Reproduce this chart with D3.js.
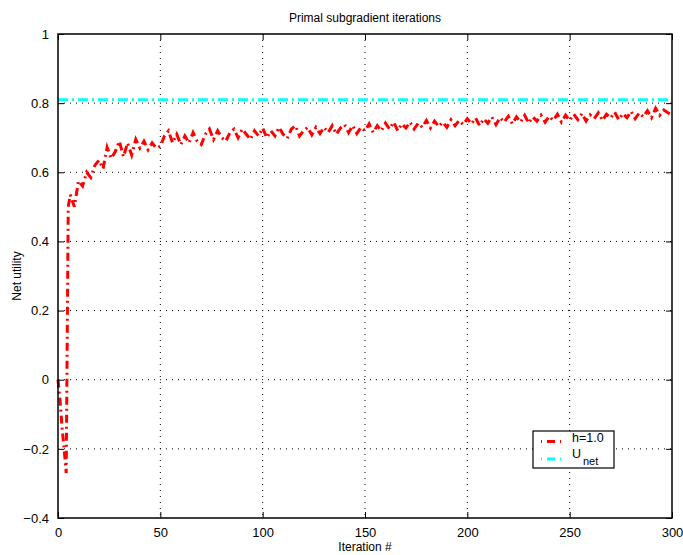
<!DOCTYPE html>
<html><head><meta charset="utf-8">
<script src="https://cdn.jsdelivr.net/npm/d3@7"></script>
<style>body{margin:0;background:#fff;} text{font-family:"Liberation Sans",Arial,Helvetica,sans-serif;}</style>
</head><body><svg id="c" width="683" height="555"></svg>
<script>
const titleText = "Primal subgradient iterations";
const xLabel = "Iteration #";
const yLabel = "Net utility";
const xTicks = [0, 50, 100, 150, 200, 250, 300];
const yTicks = [-0.4, -0.2, 0, 0.2, 0.4, 0.6, 0.8, 1];
const uNet = 0.81;
const iters = [0,1,2,3,4,5,6,8,10,12,14,16,18,20,22,24,26,28,30,32,34,36,38,40,42,44,46,48,50,
52,54,56,58,60,62,64,66,68,70,72,74,76,78,80,82,84,86,88,90,92,94,96,98,100,
102,104,106,108,110,112,114,116,118,120,122,124,126,128,130,132,134,136,138,140,142,144,146,148,150,
152,154,156,158,160,162,164,166,168,170,172,174,176,178,180,182,184,186,188,190,192,194,196,198,200,
202,204,206,208,210,212,214,216,218,220,222,224,226,228,230,232,234,236,238,240,242,244,246,248,250,
252,254,256,258,260,262,264,266,268,270,272,274,276,278,280,282,284,286,288,290,292,294,296,298,300];
const utility = [0.00,-0.06,-0.14,-0.20,-0.27,0.50,0.535,0.50,0.575,0.56,0.60,0.585,0.62,0.635,0.61,0.672,0.64,0.66,0.69,0.645,0.685,0.65,0.695,0.67,0.69,0.665,0.685,0.67,0.675,
0.705,0.72,0.685,0.71,0.68,0.705,0.685,0.715,0.69,0.68,0.71,0.725,0.695,0.72,0.70,0.69,0.715,0.725,0.70,0.725,0.71,0.695,0.72,0.705,0.728,
0.70,0.72,0.705,0.73,0.71,0.698,0.725,0.735,0.705,0.72,0.73,0.708,0.73,0.712,0.73,0.715,0.735,0.71,0.728,0.738,0.715,0.735,0.712,0.73,0.72,
0.74,0.715,0.735,0.72,0.742,0.725,0.745,0.72,0.74,0.728,0.745,0.725,0.742,0.73,0.75,0.728,0.748,0.732,0.745,0.73,0.752,0.735,0.75,0.738,0.755,
0.74,0.757,0.735,0.755,0.742,0.76,0.738,0.758,0.745,0.762,0.74,0.76,0.745,0.765,0.742,0.76,0.748,0.765,0.745,0.762,0.75,0.768,0.745,0.765,0.75,
0.768,0.752,0.77,0.748,0.766,0.755,0.772,0.75,0.768,0.757,0.774,0.752,0.77,0.758,0.776,0.755,0.772,0.76,0.778,0.758,0.785,0.765,0.78,0.772,0.765];
const legendLabels = ["h=1.0", "U", "net"];

const svg = d3.select("#c");
const L = 58, R = 672, T = 34, B = 518;
const x = d3.scaleLinear().domain([0, 300]).range([L, R]);
const y = d3.scaleLinear().domain([-0.4, 1]).range([B, T]);

// grid
const g = svg.append("g");
g.selectAll(".gx").data(xTicks.slice(1, -1)).join("line")
  .attr("x1", d => x(d)).attr("x2", d => x(d)).attr("y1", T).attr("y2", B)
  .attr("stroke", "#000").attr("stroke-width", 1).attr("stroke-dasharray", "1,5");
g.selectAll(".gy").data(yTicks.slice(1, -1)).join("line")
  .attr("y1", d => y(d)).attr("y2", d => y(d)).attr("x1", L).attr("x2", R)
  .attr("stroke", "#000").attr("stroke-width", 1).attr("stroke-dasharray", "1,5");

// U_net line
svg.append("line").attr("x1", x(0)).attr("x2", x(300)).attr("y1", y(uNet)).attr("y2", y(uNet))
  .attr("stroke", "#00ffff").attr("stroke-width", 3).attr("stroke-dasharray", "10,4,2,4");

// red series
const line = d3.line().x((d, i) => x(iters[i])).y(d => y(d));
svg.append("path").datum(utility).attr("d", line).attr("fill", "none")
  .attr("stroke", "#ff0000").attr("stroke-width", 3).attr("stroke-dasharray", "8,4,2,4");

// axes
const ax = svg.append("g");
ax.append("g").attr("transform", `translate(0,${B})`)
  .call(d3.axisBottom(x).tickValues(xTicks).tickSizeInner(-6).tickSizeOuter(0).tickPadding(10).tickFormat(d3.format("d")));
ax.append("g").attr("transform", `translate(0,${T})`)
  .call(d3.axisTop(x).tickValues(xTicks).tickSizeInner(-6).tickSizeOuter(0).tickFormat(""));
ax.append("g").attr("transform", `translate(${L},0)`)
  .call(d3.axisLeft(y).tickValues(yTicks).tickSizeInner(-6).tickSizeOuter(0).tickPadding(9).tickFormat(d => d3.format("")(+d.toFixed(1))));
ax.append("g").attr("transform", `translate(${R},0)`)
  .call(d3.axisRight(y).tickValues(yTicks).tickSizeInner(-6).tickSizeOuter(0).tickFormat(""));
ax.selectAll(".domain").remove();
ax.selectAll(".tick line").attr("stroke", "#000").attr("stroke-width", 1);
ax.selectAll(".tick text").attr("font-size", 13).attr("fill", "#000")
  .style("font-family", '"Liberation Sans",Arial,sans-serif');
svg.append("rect").attr("x", L).attr("y", T).attr("width", R - L).attr("height", B - T)
  .attr("fill", "none").attr("stroke", "#000").attr("stroke-width", 1.5);

// labels
svg.append("text").attr("x", (L + R) / 2).attr("y", 22).attr("text-anchor", "middle").attr("font-size", 12).text(titleText);
svg.append("text").attr("x", (L + R) / 2).attr("y", 551).attr("text-anchor", "middle").attr("font-size", 12).text(xLabel);
svg.append("text").attr("transform", `translate(21,${(T + B) / 2}) rotate(-90)`).attr("text-anchor", "middle").attr("font-size", 12).text(yLabel);

// legend
const lg = svg.append("g");
lg.append("rect").attr("x", 533).attr("y", 431).attr("width", 81).attr("height", 37)
  .attr("fill", "#fff").attr("stroke", "#000").attr("stroke-width", 1.2);
lg.append("line").attr("x1", 541).attr("x2", 562).attr("y1", 441.5).attr("y2", 441.5)
  .attr("stroke", "#ff0000").attr("stroke-width", 3).attr("stroke-dasharray", "1,5,8,5,1");
lg.append("line").attr("x1", 541).attr("x2", 562).attr("y1", 459).attr("y2", 459)
  .attr("stroke", "#00ffff").attr("stroke-width", 3).attr("stroke-dasharray", "1,5,8,5,1");
lg.append("text").attr("x", 572).attr("y", 442).attr("font-size", 12.5).text(legendLabels[0]);
lg.append("text").attr("x", 572).attr("y", 458).attr("font-size", 12.5).text(legendLabels[1]);
lg.append("text").attr("x", 583).attr("y", 465).attr("font-size", 11).text(legendLabels[2]);
</script></body></html>
